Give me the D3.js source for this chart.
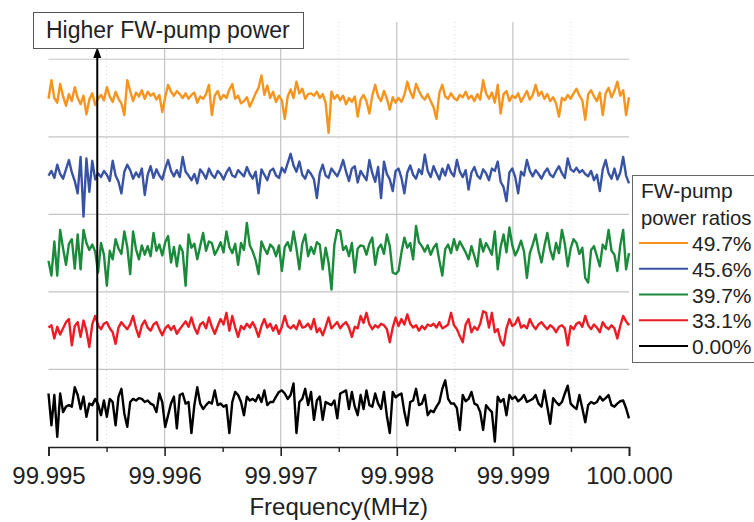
<!DOCTYPE html>
<html><head><meta charset="utf-8">
<script src="https://cdn.jsdelivr.net/npm/d3@7"></script>
<style>
html,body{margin:0;padding:0;background:#fff;}
svg{display:block;font-family:"Liberation Sans",Arial,Helvetica,sans-serif;}
</style></head>
<body><svg id="c" width="754" height="522"></svg>
<script>
// ---- data ----
const xTicks = [99.995, 99.996, 99.997, 99.998, 99.999, 100.000];
const xTickLabels = ["99.995", "99.996", "99.997", "99.998", "99.999", "100.000"];
const seriesNames = ["49.7%", "45.6%", "39.7%", "33.1%", "0.00%"];
const seriesColors = ["#F7941D", "#3953A4", "#1B8B3B", "#ED1C24", "#000000"];
const nPoints = 200;
const freqStart = 99.995, freqEnd = 100.000;

const orange = [
44.9,47.3,45.0,44.4,46.8,45.2,44.0,45.5,44.6,46.4,
45.0,44.2,45.3,42.9,44.8,45.6,44.1,44.9,45.4,44.7,
46.4,45.2,44.5,45.8,44.9,44.3,42.8,47.3,45.9,44.6,
45.7,45.2,46.0,44.9,45.8,45.3,45.6,44.8,45.4,43.2,
45.1,46.7,45.8,45.3,45.9,45.5,45.0,45.6,44.9,45.4,
45.7,44.4,45.2,44.9,45.5,46.7,42.8,45.3,45.9,44.8,
45.4,45.0,46.1,46.8,44.9,45.3,44.3,44.6,45.1,43.9,
44.7,45.6,46.3,47.9,45.4,46.6,45.0,45.8,44.5,45.3,
44.7,42.3,45.2,46.1,45.0,47.1,45.6,46.2,44.9,45.5,
45.6,45.3,45.8,45.0,45.5,44.4,40.5,45.8,44.9,45.4,
44.7,45.3,44.2,45.0,44.5,45.2,42.6,44.8,45.4,44.6,
43.0,45.3,46.7,45.2,44.6,45.9,44.9,43.5,45.1,44.4,
45.0,44.5,45.4,47.1,45.8,45.0,46.8,45.9,45.2,44.8,
45.5,44.6,43.8,42.3,45.7,46.7,45.2,44.9,45.6,45.0,
44.7,45.4,45.1,45.8,44.9,45.3,44.6,45.5,44.8,47.3,
45.6,44.9,45.7,44.4,46.7,43.0,45.5,45.9,44.6,45.3,
45.0,45.6,44.5,45.2,45.9,44.8,45.4,46.7,45.3,45.8,
44.9,45.5,44.6,45.1,44.3,42.6,45.0,44.7,45.4,44.9,
45.6,46.2,45.3,44.7,42.2,45.5,46.0,45.2,44.6,45.7,
42.8,45.6,46.3,45.1,45.9,47.1,45.3,46.0,42.8,45.1];

const blue = [
35.0,35.6,34.7,36.4,35.2,34.6,35.8,37.0,35.4,34.3,
32.7,37.4,29.7,37.2,32.9,36.9,34.5,35.3,34.8,35.6,
35.1,34.3,36.9,35.0,34.2,32.7,35.5,36.4,35.7,34.6,
35.4,34.8,35.9,32.5,35.1,36.2,34.7,35.8,35.0,34.5,
35.9,37.0,35.6,34.9,35.7,34.8,37.4,35.5,35.0,34.4,
35.2,34.0,35.8,35.3,34.6,35.9,35.1,34.7,35.6,35.2,
34.5,35.4,36.0,35.0,34.8,35.7,35.3,34.9,36.1,35.2,
34.6,35.5,32.7,35.8,35.1,34.4,35.6,35.9,35.0,34.7,
36.0,35.4,36.6,37.8,36.3,35.5,36.8,35.1,34.6,35.7,
35.2,34.5,32.1,35.3,36.4,35.0,34.7,35.9,35.4,34.9,
35.8,37.0,35.5,34.3,35.9,36.2,34.1,35.6,35.0,34.4,
37.0,35.3,34.2,36.1,32.1,36.8,35.2,34.5,33.0,35.6,
35.9,34.7,32.7,35.4,36.3,35.1,34.6,35.8,35.2,37.7,
35.6,34.8,36.2,35.3,34.5,35.9,35.0,36.4,35.4,34.9,
37.0,35.5,34.8,35.7,33.2,35.4,36.1,35.0,34.6,35.8,
35.3,34.4,35.9,35.6,36.8,34.2,33.5,31.7,35.4,35.9,
34.8,32.7,35.5,35.0,37.0,35.6,34.9,35.7,35.2,34.6,
35.4,35.9,35.1,34.8,35.6,36.2,35.3,34.7,37.2,35.8,
35.5,36.0,35.4,35.7,35.2,34.9,35.6,34.4,35.1,33.0,
35.8,37.0,35.3,34.6,35.9,34.5,35.4,37.4,35.0,34.0];

const green = [
24.0,22.1,26.5,22.1,28.0,25.6,23.5,26.2,26.8,23.0,
27.4,22.9,28.0,26.3,25.4,26.1,25.2,22.5,26.3,24.8,
20.8,25.3,24.2,26.8,25.6,24.9,27.8,25.8,22.3,27.8,
25.5,24.2,26.0,24.8,25.9,24.6,27.6,25.3,26.1,24.7,
26.4,27.2,23.8,25.8,23.3,26.0,25.2,20.8,27.4,25.7,
26.2,24.2,25.9,27.6,25.3,26.5,26.3,24.8,25.5,26.4,
25.1,27.8,25.8,25.0,26.2,23.5,26.3,25.4,28.9,26.0,
25.2,24.1,22.3,26.5,25.6,24.9,26.1,25.7,24.6,26.0,
22.7,25.8,26.4,25.3,27.8,25.6,22.9,26.2,27.4,24.6,
25.8,24.9,26.4,26.1,22.9,25.7,23.8,20.3,26.1,28.0,
27.8,25.4,25.9,24.6,26.3,22.5,25.6,26.0,25.9,24.8,
26.2,27.0,23.5,25.6,26.1,24.9,27.4,25.9,22.5,22.3,
22.7,25.1,27.0,25.7,26.3,24.2,28.5,26.4,25.9,25.2,
26.0,24.8,25.7,26.2,24.0,22.1,25.5,26.1,25.0,26.8,
25.4,26.5,25.8,25.1,24.2,25.9,24.6,23.3,26.8,25.2,
26.3,25.6,24.8,27.8,22.9,25.8,27.4,25.1,28.3,26.0,
24.7,25.5,26.6,25.2,21.8,25.0,26.1,27.4,25.3,23.8,
25.9,27.6,25.4,24.2,26.3,25.0,28.0,26.2,23.3,25.6,
26.8,26.3,24.9,25.7,21.8,21.2,25.4,25.9,24.6,23.3,
26.1,25.5,28.0,25.3,24.8,22.7,26.0,28.0,22.9,25.0];

const red = [
15.4,15.7,14.0,15.5,14.5,15.3,16.1,16.5,13.1,15.6,
16.1,14.2,16.3,15.0,12.9,15.8,16.9,15.7,15.2,15.9,
16.1,15.3,14.8,13.3,15.4,16.1,15.6,15.2,15.8,16.9,
15.3,14.2,15.7,16.3,15.4,15.0,15.8,16.1,15.2,14.4,
15.3,15.7,15.1,15.6,14.6,15.2,15.7,16.2,15.5,16.7,
15.4,14.6,15.8,16.1,15.3,16.7,15.5,14.6,15.6,16.5,
15.8,17.3,15.0,16.9,15.4,14.2,15.6,15.2,15.9,15.4,
16.1,15.3,14.2,15.6,16.5,15.4,15.9,15.0,15.7,14.6,
15.5,16.9,15.6,15.3,15.7,15.2,16.3,15.4,15.5,15.9,
15.2,16.5,14.8,15.3,14.4,15.5,16.7,15.3,15.7,16.1,
15.3,15.8,16.1,15.4,14.2,15.5,15.3,16.9,16.0,17.3,
15.8,15.2,15.7,15.4,15.9,15.7,15.2,13.5,15.4,16.7,
15.6,16.5,15.8,17.1,15.9,15.4,15.7,15.0,15.6,15.2,
15.8,15.6,15.9,15.4,16.1,15.3,15.5,15.8,17.3,15.7,
15.2,14.3,13.5,15.8,16.5,14.8,15.5,15.1,15.9,17.5,
17.3,15.4,17.3,14.8,15.2,13.7,13.1,15.3,16.5,15.6,
15.9,16.7,15.4,15.7,15.3,16.5,15.7,15.2,15.8,16.1,
15.6,15.2,15.7,15.4,14.8,15.5,15.7,15.3,13.1,15.6,
15.2,15.9,16.1,15.5,16.9,15.7,15.2,15.8,15.4,14.8,
16.1,15.5,15.2,15.7,15.3,14.0,15.6,16.9,16.2,15.7];

const black = [
6.9,2.8,6.7,1.3,6.9,4.5,5.2,5.4,5.2,7.7,
6.7,4.9,6.5,3.9,5.6,5.4,6.2,5.5,4.1,6.0,
3.9,6.2,5.8,2.8,6.5,7.5,4.3,2.6,5.8,6.2,
6.0,6.3,6.2,5.8,6.0,5.6,5.4,4.5,6.9,5.8,
2.6,4.1,5.6,6.5,2.4,6.7,6.9,5.6,5.8,1.8,
5.4,7.7,5.6,4.9,5.4,5.8,5.6,7.3,5.4,5.6,
5.2,5.4,1.8,5.8,7.1,6.7,5.8,4.1,6.5,6.0,
6.2,5.9,6.7,5.8,7.3,5.4,5.8,5.8,6.5,7.1,
7.3,6.9,6.2,6.7,8.2,1.8,5.8,6.2,7.5,5.4,
7.1,3.5,6.0,6.5,3.5,5.8,5.6,5.4,6.0,3.7,
6.9,7.1,7.3,4.9,7.1,5.2,4.1,6.7,4.9,7.3,
5.4,5.2,6.9,5.6,4.9,7.1,4.0,1.8,7.1,6.4,
6.7,6.9,4.5,2.8,5.8,6.0,7.5,5.4,5.6,6.7,
4.1,4.7,4.5,5.2,5.8,7.5,8.6,6.2,5.6,5.6,
5.0,2.2,6.7,5.9,6.2,7.1,5.6,5.4,4.5,2.2,
5.4,4.9,4.5,0.7,6.5,5.8,6.2,4.1,6.7,6.2,
6.5,5.9,6.2,6.7,5.8,6.0,6.2,6.7,5.6,5.2,
7.3,5.2,3.0,6.3,5.8,5.4,5.8,6.9,7.9,5.6,
5.2,4.9,6.7,5.0,3.2,5.4,5.8,5.6,5.8,6.5,
6.0,6.3,6.7,5.4,5.2,5.6,5.9,6.0,5.0,3.7];

const allSeries = [orange, blue, green, red, black];
const yMax = 54.8;
const yGrid = [10, 20, 30, 40, 50];
const yMinorGrid = [5, 15, 25, 35, 45];
const xMinor = [99.9955, 99.9965, 99.9975, 99.9985, 99.9995];

// ---- drawing ----
const svg = d3.select("#c");
const L = 48.5, R = 629, T = 22, B = 447;
const x = d3.scaleLinear().domain([freqStart, freqEnd]).range([L, R]);
const y = d3.scaleLinear().domain([0, yMax]).range([B, T]);
const freqs = d3.range(nPoints).map(i => freqStart + i * (freqEnd - freqStart) / (nPoints - 1));

const g = svg.append("g");
g.selectAll(".vmin").data(xMinor).join("line")
  .attr("x1", d => x(d)).attr("x2", d => x(d)).attr("y1", T).attr("y2", B)
  .attr("stroke", "#d8d8d8").attr("stroke-width", 1).attr("stroke-dasharray", "1,3");
g.selectAll(".hmin").data(yMinorGrid).join("line")
  .attr("x1", L).attr("x2", R).attr("y1", d => y(d)).attr("y2", d => y(d))
  .attr("stroke", "#d8d8d8").attr("stroke-width", 1).attr("stroke-dasharray", "1,3");
g.selectAll(".vmaj").data(xTicks.slice(1, -1)).join("line")
  .attr("x1", d => x(d)).attr("x2", d => x(d)).attr("y1", T).attr("y2", B)
  .attr("stroke", "#c4c4c4").attr("stroke-width", 1.2);
g.selectAll(".hmaj").data(yGrid).join("line")
  .attr("x1", L).attr("x2", R).attr("y1", d => y(d)).attr("y2", d => y(d))
  .attr("stroke", "#c4c4c4").attr("stroke-width", 1.2);

// series
const line = d3.line().x((d, i) => x(freqs[i])).y(d => y(d));
svg.append("g").selectAll("path").data(allSeries.slice().reverse()).join("path")
  .attr("d", d => line(d)).attr("fill", "none")
  .attr("stroke", (d, i) => seriesColors[seriesColors.length - 1 - i])
  .attr("stroke-width", 2.4).attr("stroke-linejoin", "round");

// x axis
const ax = svg.append("g").attr("transform", `translate(0,${B})`)
  .call(d3.axisBottom(x).tickValues(xTicks).tickFormat((d, i) => xTickLabels[i]).tickSize(9).tickPadding(11));
ax.select(".domain").attr("stroke", "#222").attr("stroke-width", 1.6);
ax.selectAll(".tick line").attr("stroke", "#222").attr("stroke-width", 1.6);
ax.selectAll(".tick text").attr("font-size", 24).attr("fill", "#222")
  .attr("font-family", "Liberation Sans, Arial, sans-serif");
svg.append("g").attr("transform", `translate(0,${B})`)
  .call(d3.axisBottom(x).tickValues(xMinor).tickFormat("").tickSize(5))
  .call(s => { s.select(".domain").remove(); s.selectAll("line").attr("stroke", "#222").attr("stroke-width", 1.4); });

svg.append("text").attr("x", (L + R) / 2).attr("y", 515).attr("text-anchor", "middle")
  .attr("font-size", 24).attr("fill", "#222").text("Frequency(MHz)");

// arrow
const ax0 = x(99.99542);
svg.append("line").attr("x1", ax0).attr("x2", ax0).attr("y1", 441).attr("y2", 56)
  .attr("stroke", "#000").attr("stroke-width", 2);
svg.append("path").attr("d", `M${ax0},47 L${ax0 - 4},58 L${ax0 + 4},58 Z`).attr("fill", "#000");

// label box
svg.append("rect").attr("x", 33.5).attr("y", 12.5).attr("width", 270).attr("height", 36)
  .attr("fill", "#fff").attr("stroke", "#555").attr("stroke-width", 1);
svg.append("text").attr("x", 46).attr("y", 38).attr("font-size", 23).attr("fill", "#222")
  .text("Higher FW-pump power");

// legend
const lg = svg.append("g");
lg.append("rect").attr("x", 632.5).attr("y", 175.5).attr("width", 140).attr("height", 187)
  .attr("fill", "#fff").attr("stroke", "#666").attr("stroke-width", 1);
lg.append("text").attr("x", 641).attr("y", 198).attr("font-size", 21).attr("fill", "#222").text("FW-pump");
lg.append("text").attr("x", 641).attr("y", 225).attr("font-size", 20.3).attr("fill", "#222").text("power ratios");
const legY = d3.scaleLinear().domain([0, 4]).range([243, 346]);
seriesNames.forEach((name, i) => {
  lg.append("line").attr("x1", 639).attr("x2", 688).attr("y1", legY(i)).attr("y2", legY(i))
    .attr("stroke", seriesColors[i]).attr("stroke-width", 2);
  lg.append("text").attr("x", 692).attr("y", legY(i) + 8).attr("font-size", 21).attr("fill", "#222").text(name);
});
</script>
</body></html>
